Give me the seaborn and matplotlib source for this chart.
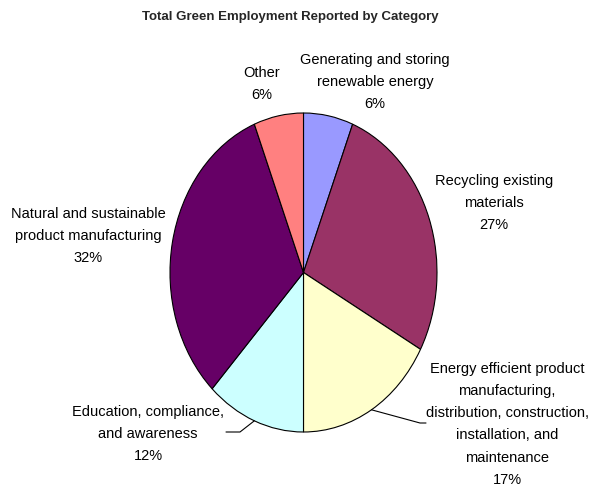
import matplotlib
matplotlib.use("Agg")
import matplotlib.pyplot as plt
import numpy as np
import seaborn as sns

sns.set_theme(style="white")
plt.rcParams['font.family'] = ['Liberation Sans', 'DejaVu Sans']

# DATA (clockwise from 12 o'clock)
categories = [
    "Generating and storing\nrenewable energy",
    "Recycling existing\nmaterials",
    "Energy efficient product\nmanufacturing,\ndistribution, construction,\ninstallation, and\nmaintenance",
    "Education, compliance,\nand awareness",
    "Natural and sustainable\nproduct manufacturing",
    "Other",
]
shares = [6, 27, 17, 12, 32, 6]
colors = ["#9999FF", "#993366", "#FFFFCC", "#CCFFFF", "#660066", "#FF8080"]

# label anchor positions in pixels (center x, top y) and leader line elbows
label_pos = [(375, 53), (494, 174), (507, 362), (148, 405), (88, 207), (262, 66)]
leaders = {2: [(420, 423), (426, 423)], 3: [(240, 432), (226, 432)]}

W, H = 590, 490
# pie box in pixels
PX0, PX1, PY0, PY1 = 170, 437, 113, 432

fig = plt.figure(figsize=(W / 100, H / 100), dpi=100)
ax = fig.add_axes([PX0 / W, 1 - PY1 / H, (PX1 - PX0) / W, (PY1 - PY0) / H])

wedges, _ = ax.pie(shares, colors=colors, startangle=90, counterclock=False,
                   radius=1, wedgeprops=dict(edgecolor="black", linewidth=0.8))
ax.set_xlim(-1, 1)
ax.set_ylim(-1, 1)
ax.set_aspect("auto")
ax.axis("off")


def px2data(px, py):
    x = (px - PX0) / (PX1 - PX0) * 2 - 1
    y = 1 - (py - PY0) / (PY1 - PY0) * 2
    return x, y


total = sum(shares)
for i, (lab, val) in enumerate(zip(categories, shares)):
    cx, ty = label_pos[i]
    fig.text(cx / W, 1 - ty / H, "{}\n{:.0f}%".format(lab, val / total * 100),
             ha="center", va="top", fontsize=10.5, linespacing=1.74, color="black")

for i, pts in leaders.items():
    w = wedges[i]
    mid = np.deg2rad((w.theta1 + w.theta2) / 2)
    xs = [np.cos(mid)]
    ys = [np.sin(mid)]
    for p in pts:
        x, y = px2data(*p)
        xs.append(x)
        ys.append(y)
    ax.plot(xs, ys, color="black", linewidth=0.8, clip_on=False)

fig.text(290 / W, 1 - 17 / H, "Total Green Employment Reported by Category",
         ha="center", va="center", fontsize=9.5, fontweight="bold")

fig.savefig("out.png", dpi=100, facecolor="white")
